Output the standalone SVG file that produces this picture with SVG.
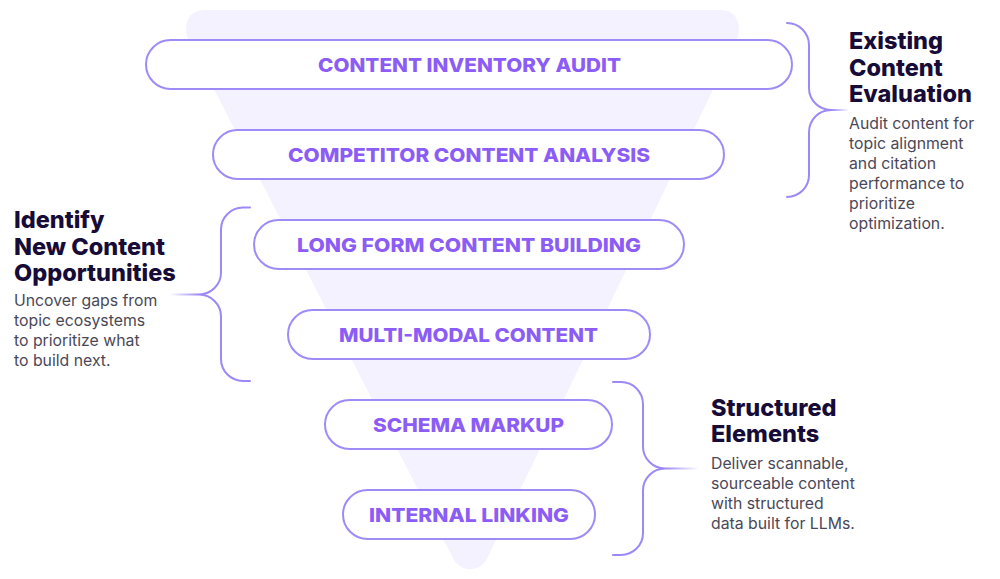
<svg xmlns="http://www.w3.org/2000/svg" width="1000" height="579" viewBox="0 0 1000 579">
<style>
.pill{fill:#ffffff;stroke:#9f8bf7;stroke-width:2}
.pt{font-family:Inter,"Liberation Sans",sans-serif;font-weight:800;font-size:19px;fill:#8b5cf6;text-anchor:middle}
.brace{fill:none;stroke:#9d88f6;stroke-width:2;stroke-linecap:round}
.h{font-family:Inter,"Liberation Sans",sans-serif;font-weight:800;font-size:23.5px;fill:#170b38}
.b{font-family:Inter,"Liberation Sans",sans-serif;font-weight:400;font-size:15.8px;fill:#4a4858}
</style>
<defs>
<linearGradient id="fadeR" x1="0" y1="0" x2="1" y2="0"><stop offset="0" stop-color="#9d88f6"/><stop offset="1" stop-color="#9d88f6" stop-opacity="0"/></linearGradient>
<linearGradient id="fadeL" x1="1" y1="0" x2="0" y2="0"><stop offset="0" stop-color="#9d88f6"/><stop offset="1" stop-color="#9d88f6" stop-opacity="0"/></linearGradient>
</defs>
<path id="funnel" d="M186 30 Q186 10 206 10 L719 10 Q739 10 739 30 Q739 36 736 42 L486.4 560 A19 19 0 0 1 453.9 560 L190 42 Q186 36 186 30 Z" fill="#f4f2fe"/>
<g id="connectors">
<path class="brace" d="M787 23 A22 22 0 0 1 809 45 L809 88 A22 22 0 0 0 831 110 A22 22 0 0 0 809 132 L809 175 A22 22 0 0 1 787 197"/>
<rect x="831" y="109" width="18" height="2" fill="url(#fadeR)"/>
<path class="brace" d="M250 207.5 L243 207.5 A22 22 0 0 0 221 229.5 L221 272.5 A22 22 0 0 1 199 294.5 A22 22 0 0 1 221 316.5 L221 359 A22 22 0 0 0 243 381 L250 381"/>
<rect x="170" y="293.5" width="29" height="2" fill="url(#fadeL)"/>
<path class="brace" d="M613 382 L621 382 A22 22 0 0 1 643 404 L643 446.5 A22 22 0 0 0 665 468.5 A22 22 0 0 0 643 490.5 L643 533 A22 22 0 0 1 621 555 L613 555"/>
<rect x="665" y="467.5" width="34" height="2" fill="url(#fadeR)"/>
</g>
<g id="n1"><rect class="pill" x="146" y="40" width="646" height="49" rx="24.5"/><text class="pt" x="469.5" y="71.5" textLength="303" lengthAdjust="spacingAndGlyphs">CONTENT INVENTORY AUDIT</text></g>
<g id="n2"><rect class="pill" x="213" y="130" width="511" height="49" rx="24.5"/><text class="pt" x="469" y="161.5" textLength="362" lengthAdjust="spacingAndGlyphs">COMPETITOR CONTENT ANALYSIS</text></g>
<g id="n3"><rect class="pill" x="254" y="220" width="430" height="49" rx="24.5"/><text class="pt" x="469" y="251.5" textLength="344" lengthAdjust="spacingAndGlyphs">LONG FORM CONTENT BUILDING</text></g>
<g id="n4"><rect class="pill" x="288" y="310" width="362" height="49" rx="24.5"/><text class="pt" x="468.5" y="341.5" textLength="259" lengthAdjust="spacingAndGlyphs">MULTI-MODAL CONTENT</text></g>
<g id="n5"><rect class="pill" x="325" y="400" width="287" height="49" rx="24.5"/><text class="pt" x="468.5" y="431.5" textLength="191" lengthAdjust="spacingAndGlyphs">SCHEMA MARKUP</text></g>
<g id="n6"><rect class="pill" x="343" y="490" width="252" height="49" rx="24.5"/><text class="pt" x="469" y="521.5" textLength="200" lengthAdjust="spacingAndGlyphs">INTERNAL LINKING</text></g>
<g id="existing">
<text class="h"><tspan x="849" y="49">Existing</tspan><tspan x="849" y="75.5">Content</tspan><tspan x="849" y="102">Evaluation</tspan></text>
<text class="b"><tspan x="849" y="128.5">Audit content for</tspan><tspan x="849" y="148.5">topic alignment</tspan><tspan x="849" y="168.5">and citation</tspan><tspan x="849" y="188.5">performance to</tspan><tspan x="849" y="208.5">prioritize</tspan><tspan x="849" y="228.5">optimization.</tspan></text>
</g>
<g id="identify">
<text class="h"><tspan x="14" y="228">Identify</tspan><tspan x="14" y="254.5">New Content</tspan><tspan x="14" y="281">Opportunities</tspan></text>
<text class="b"><tspan x="14" y="305.5">Uncover gaps from</tspan><tspan x="14" y="325.5">topic ecosystems</tspan><tspan x="14" y="345.5">to prioritize what</tspan><tspan x="14" y="365.5">to build next.</tspan></text>
</g>
<g id="structured">
<text class="h"><tspan x="711" y="415.5">Structured</tspan><tspan x="711" y="442">Elements</tspan></text>
<text class="b"><tspan x="711" y="468.5">Deliver scannable,</tspan><tspan x="711" y="488.5">sourceable content</tspan><tspan x="711" y="508.5">with structured</tspan><tspan x="711" y="528.5">data built for LLMs.</tspan></text>
</g>
</svg>
